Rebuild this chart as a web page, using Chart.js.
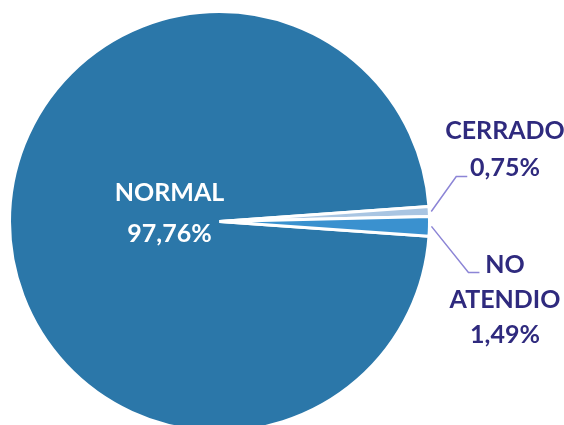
<!DOCTYPE html>
<html>
<head>
<meta charset="utf-8">
<script src="https://cdn.jsdelivr.net/npm/chart.js@4"></script>
<style>
  html, body { margin: 0; padding: 0; background: #fff; overflow: hidden; }
  #wrap { width: 564px; height: 440px; position: relative; }
</style>
</head>
<body>
<div id="wrap"><canvas id="pieChart"></canvas></div>
<script>
// --- data ---
const categories = ['NORMAL', 'CERRADO', 'NO ATENDIO'];
const percentages = [97.76, 0.75, 1.49];
const sliceColors = ['#2b77a9', '#a9c5e2', '#3a91cf'];

// label look
const TEXT_COLOR = '#2f2a7e';
const LEADER_COLOR = '#8c85d6';
const FONT = 'bold 25px Lato';

function fmt(v) {
    return v.toFixed(2).replace('.', ',') + '%';
}

const pieLabels = {
    id: 'pieLabels',
    afterDatasetsDraw(chart) {
        const ctx = chart.ctx;
        const arcs = chart.getDatasetMeta(0).data;
        ctx.save();
        ctx.font = FONT;
        ctx.textAlign = 'center';
        ctx.textBaseline = 'middle';

        // NORMAL: inside the big slice
        const a0 = arcs[0];
        ctx.fillStyle = '#ffffff';
        ctx.fillText(categories[0], a0.x - 50, a0.y - 29);
        ctx.fillText(fmt(percentages[0]), a0.x - 50, a0.y + 12);

        // small slices: leader line from outer edge, elbow, label block
        const leaders = [
            null,
            { dx: 25, dy: -35, run: 11, tx: 505, lines: [131, 168] },
            { dx: 37, dy: 46, run: 11, tx: 505, lines: [265, 300, 335] }
        ];
        ctx.strokeStyle = LEADER_COLOR;
        ctx.lineWidth = 1.5;
        for (let i = 1; i < arcs.length; i++) {
            const a = arcs[i];
            const L = leaders[i];
            const mid = (a.startAngle + a.endAngle) / 2;
            const sx = a.x + (a.outerRadius + 2) * Math.cos(mid);
            const sy = a.y + (a.outerRadius + 2) * Math.sin(mid);
            const ex = sx + L.dx, ey = sy + L.dy;
            ctx.beginPath();
            ctx.moveTo(sx, sy);
            ctx.lineTo(ex, ey);
            ctx.lineTo(ex + L.run, ey);
            ctx.stroke();

            const words = categories[i].split(' ');
            const textLines = words.length > 1 ? words.concat([fmt(percentages[i])]) : [categories[i], fmt(percentages[i])];
            ctx.fillStyle = TEXT_COLOR;
            textLines.forEach((t, k) => ctx.fillText(t, L.tx, L.lines[k]));
        }
        ctx.restore();
    }
};

new Chart(document.getElementById('pieChart'), {
    type: 'pie',
    data: {
        labels: categories,
        datasets: [{
            data: percentages,
            backgroundColor: sliceColors,
            borderColor: '#ffffff',
            borderWidth: 3
        }]
    },
    options: {
        responsive: true,
        maintainAspectRatio: false,
        animation: false,
        rotation: 94,
        layout: { padding: { left: 8, right: 133, top: 10, bottom: 7 } },
        plugins: {
            legend: { display: false },
            tooltip: { enabled: false }
        }
    },
    plugins: [pieLabels]
});
</script>
</body>
</html>
